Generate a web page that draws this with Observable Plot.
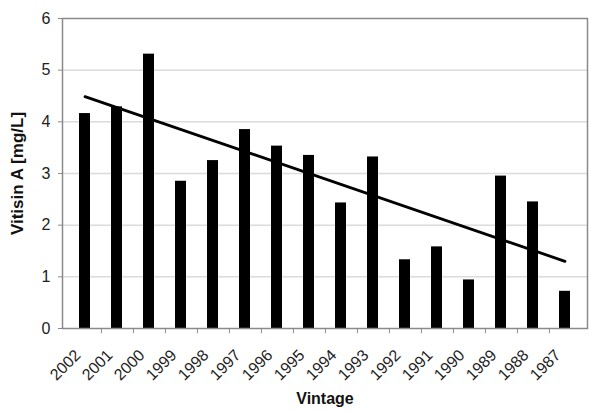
<!DOCTYPE html>
<html>
<head>
<meta charset="utf-8">
<script src="https://cdn.jsdelivr.net/npm/d3@7"></script>
<script src="https://cdn.jsdelivr.net/npm/@observablehq/plot@0.6"></script>
<style>
  html, body { margin: 0; padding: 0; background: #fff; }
  #chart svg { display: block; }
</style>
</head>
<body>
<div id="chart"></div>
<script>
const vintages = ["2002","2001","2000","1999","1998","1997","1996","1995","1994","1993","1992","1991","1990","1989","1988","1987"];
const vitisinA = [4.16, 4.29, 5.31, 2.85, 3.25, 3.85, 3.53, 3.35, 2.43, 3.32, 1.33, 1.58, 0.94, 2.95, 2.45, 0.72];
const yTicks = [0, 1, 2, 3, 4, 5, 6];

const data = vintages.map((v, i) => ({vintage: v, value: vitisinA[i], i}));

// least-squares linear trend (Excel-style trendline)
const n = data.length;
const mx = d3.mean(data, d => d.i), my = d3.mean(data, d => d.value);
const slope = d3.sum(data, d => (d.i - mx) * (d.value - my)) / d3.sum(data, d => (d.i - mx) ** 2);
const trend = [data[0], data[n - 1]].map(d => ({vintage: d.vintage, value: my + slope * (d.i - mx)}));

const W = 589, H = 412;
const mL = 62, mR = 2;
const step = (W - mL - mR) / n;

const chart = Plot.plot({
  width: W,
  height: H,
  marginLeft: mL,
  marginRight: mR,
  marginTop: 18,
  marginBottom: 84,
  style: {fontFamily: "'Liberation Sans', Arial, sans-serif", color: "#222", background: "#fff"},
  x: {domain: vintages, paddingInner: 0.65, paddingOuter: 0.325},
  y: {domain: [0, 6]},
  marks: [
    Plot.gridY(yTicks.filter(t => t > 0 && t < 6), {stroke: "#dcdcdc", strokeOpacity: 1, strokeWidth: 1.5}),
    Plot.barY(data, {x: "vintage", y: "value", fill: "#000"}),
    Plot.line(trend, {x: "vintage", y: "value", stroke: "#000", strokeWidth: 2.8}),
    Plot.frame({stroke: "#8a8a8a", strokeWidth: 1.5}),
    Plot.ruleX(vintages.slice(0, -1), {x: d => d, y1: 0, y2: -0.1, dx: step / 2, stroke: "#8a8a8a", strokeWidth: 1}),
    Plot.axisY(yTicks, {tickSize: 4, tickPadding: 8, tickFormat: d3.format("d"), stroke: "#8a8a8a", fontSize: 16, fill: "#222", label: null}),
    Plot.axisX({tickSize: 0, tickRotate: -45, tickPadding: 24, dx: -7, fontSize: 16, fill: "#222", label: null}),
    Plot.text(["Vitisin A [mg/L]"], {frameAnchor: "left", textAnchor: "middle", dx: -45, rotate: -90, fontWeight: "bold", fontSize: 17, fill: "#111"}),
    Plot.text(["Vintage"], {frameAnchor: "bottom", dy: 75, fontWeight: "bold", fontSize: 16, fill: "#111"})
  ]
});
document.getElementById("chart").appendChild(chart);
</script>
</body>
</html>
